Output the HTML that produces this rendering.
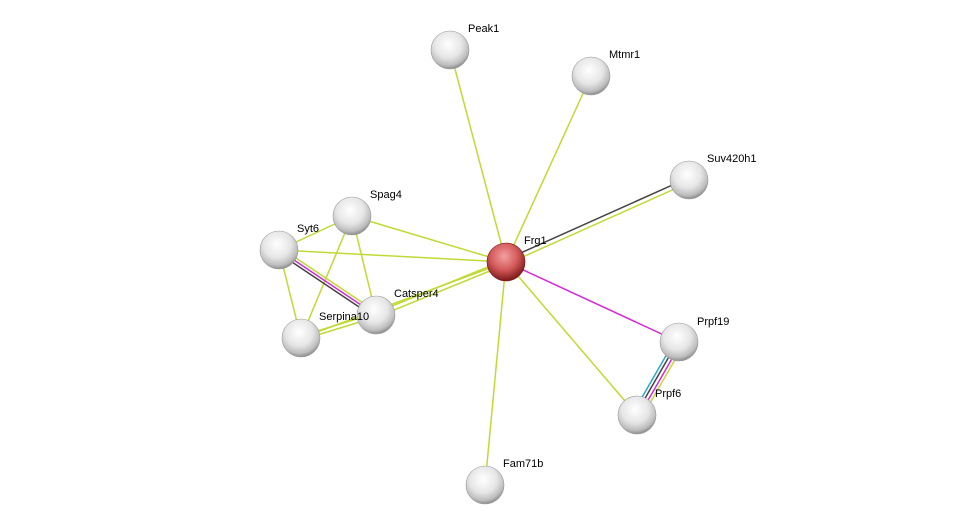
<!DOCTYPE html>
<html><head><style>body{margin:0;background:#fff}svg{display:block}text{font-family:"Liberation Sans",Arial,sans-serif;font-size:11px;fill:#000}</style></head><body>
<svg width="975" height="530" viewBox="0 0 975 530" xmlns="http://www.w3.org/2000/svg">
<defs>
<radialGradient id="g" cx="0.45" cy="0.35" r="0.65"><stop offset="0" stop-color="#fff"/><stop offset="0.55" stop-color="#e6e6e6"/><stop offset="0.85" stop-color="#bdbdbd"/><stop offset="1" stop-color="#8c8c8c"/></radialGradient>
<radialGradient id="r" cx="0.45" cy="0.35" r="0.65"><stop offset="0" stop-color="#f2a0a0"/><stop offset="0.55" stop-color="#d45a5a"/><stop offset="1" stop-color="#7a1818"/></radialGradient>
</defs>
<g stroke="#c2d934" stroke-width="1.5" fill="none">
<line x1="506" y1="262" x2="450" y2="50"/>
<line x1="506" y1="262" x2="591" y2="76"/>
<line x1="507" y1="264" x2="690" y2="182"/>
<line x1="506" y1="262" x2="637" y2="415"/>
<line x1="506" y1="262" x2="485" y2="485"/>
<line x1="506" y1="262" x2="352" y2="216"/>
<line x1="506" y1="262" x2="279" y2="250"/>
<line x1="506" y1="262" x2="301" y2="338"/>
<line x1="505" y1="260" x2="375" y2="313"/>
<line x1="507" y1="264" x2="377" y2="317"/>
<line x1="279" y1="250" x2="352" y2="216"/>
<line x1="279" y1="250" x2="301" y2="338"/>
<line x1="352" y1="216" x2="301" y2="338"/>
<line x1="352" y1="216" x2="376" y2="315"/>
<line x1="301" y1="336" x2="376" y2="313"/>
<line x1="301" y1="340" x2="376" y2="317"/>
<line x1="281" y1="248" x2="378" y2="313"/>
</g>
<line x1="505" y1="260" x2="688" y2="178" stroke="#444" stroke-width="1.5"/>
<line x1="506" y1="262" x2="679" y2="342" stroke="#d62ad6" stroke-width="1.5"/>
<line x1="279" y1="250" x2="376" y2="315" stroke="#d62ad6" stroke-width="1.5"/>
<line x1="277" y1="252" x2="374" y2="317" stroke="#444" stroke-width="1.5"/>
<line x1="675" y1="340" x2="633" y2="413" stroke="#2aa8c8" stroke-width="1.5"/>
<line x1="678" y1="341" x2="636" y2="414" stroke="#444" stroke-width="1.5"/>
<line x1="681" y1="343" x2="639" y2="416" stroke="#d62ad6" stroke-width="1.5"/>
<line x1="684" y1="344" x2="642" y2="417" stroke="#c2d934" stroke-width="1.5"/>
<g stroke="#9a9a9a" stroke-width="0.6">
<circle cx="450" cy="50" r="19" fill="url(#g)"/>
<circle cx="591" cy="76" r="19" fill="url(#g)"/>
<circle cx="689" cy="180" r="19" fill="url(#g)"/>
<circle cx="352" cy="216" r="19" fill="url(#g)"/>
<circle cx="279" cy="250" r="19" fill="url(#g)"/>
<circle cx="376" cy="315" r="19" fill="url(#g)"/>
<circle cx="301" cy="338" r="19" fill="url(#g)"/>
<circle cx="679" cy="342" r="19" fill="url(#g)"/>
<circle cx="637" cy="415" r="19" fill="url(#g)"/>
<circle cx="485" cy="485" r="19" fill="url(#g)"/>
<circle cx="506" cy="262" r="19" fill="url(#r)" stroke="#7a1818"/>
</g>
<text x="468" y="32">Peak1</text>
<text x="609" y="58">Mtmr1</text>
<text x="707" y="162">Suv420h1</text>
<text x="524" y="244">Frg1</text>
<text x="370" y="198">Spag4</text>
<text x="297" y="232">Syt6</text>
<text x="394" y="297">Catsper4</text>
<text x="319" y="320">Serpina10</text>
<text x="697" y="325">Prpf19</text>
<text x="655" y="397">Prpf6</text>
<text x="503" y="467">Fam71b</text>
</svg>
</body></html>
